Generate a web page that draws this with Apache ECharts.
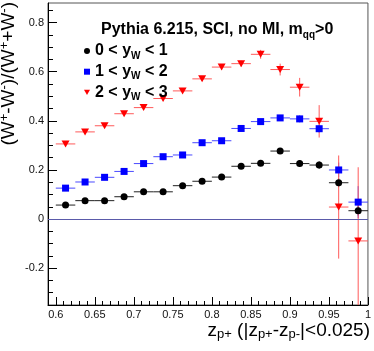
<!DOCTYPE html>
<html><head><meta charset="utf-8">
<script src="https://cdn.jsdelivr.net/npm/echarts@6/dist/echarts.min.js"></script>
<style>html,body{margin:0;padding:0;background:#fff}#c{width:374px;height:351px}</style>
</head><body><div id="c"></div>
<script>
// ---- data ----
const xCenters = [0.6125, 0.6375, 0.6625, 0.6875, 0.7125, 0.7375, 0.7625, 0.7875,
                  0.8125, 0.8375, 0.8625, 0.8875, 0.9125, 0.9375, 0.9625, 0.9875];
const binHalfWidth = 0.0125;

const blackY   = [0.057, 0.075, 0.075, 0.091, 0.111, 0.111, 0.136, 0.154, 0.171, 0.215, 0.227, 0.277, 0.226, 0.220, 0.148, 0.034];
const blackErr = [0.004, 0.004, 0.004, 0.005, 0.005, 0.005, 0.006, 0.006, 0.007, 0.008, 0.009, 0.010, 0.014, 0.015, 0.018, 0.020];
const blueY    = [0.126, 0.151, 0.170, 0.194, 0.226, 0.254, 0.261, 0.311, 0.319, 0.369, 0.397, 0.412, 0.408, 0.368, 0.200, 0.069];
const blueErr  = [0.004, 0.005, 0.005, 0.005, 0.006, 0.006, 0.007, 0.007, 0.008, 0.009, 0.010, 0.011, 0.014, 0.016, 0.030, 0.065];
const redY     = [0.306, 0.355, 0.380, 0.429, 0.454, 0.491, 0.522, 0.571, 0.619, 0.633, 0.671, 0.609, 0.537, 0.398, 0.049, -0.089];
const redErr   = [0.005, 0.005, 0.006, 0.006, 0.007, 0.007, 0.008, 0.009, 0.010, 0.012, 0.018, 0.024, 0.038, 0.066, 0.210, 0.300];

const legendParts = [['0 < y', 'W', ' < 1'], ['1 < y', 'W', ' < 2'], ['2 < y', 'W', ' < 3']];
const seriesNames = legendParts.map(p => p.join(''));

const xRange = [0.59, 1.0];
const yRange = [-0.35, 0.88];
const xMajorTicks = [0.6, 0.65, 0.7, 0.75, 0.8, 0.85, 0.9, 0.95, 1.0];
const xMinorTicks = [0.6, 0.61, 0.62, 0.63, 0.64, 0.65, 0.66, 0.67, 0.68, 0.69, 0.7, 0.71, 0.72, 0.73, 0.74,
                     0.75, 0.76, 0.77, 0.78, 0.79, 0.8, 0.81, 0.82, 0.83, 0.84, 0.85, 0.86, 0.87, 0.88, 0.89,
                     0.9, 0.91, 0.92, 0.93, 0.94, 0.95, 0.96, 0.97, 0.98, 0.99, 1.0];
const yMajorTicks = [-0.2, 0, 0.2, 0.4, 0.6, 0.8];
const yMinorTicks = [-0.35, -0.3, -0.25, -0.2, -0.15, -0.1, -0.05, 0, 0.05, 0.1, 0.15, 0.2, 0.25, 0.3, 0.35,
                     0.4, 0.45, 0.5, 0.55, 0.6, 0.65, 0.7, 0.75, 0.8, 0.85];

// ---- chart ----
const FONT = '"Liberation Sans", Arial, Helvetica, sans-serif';
const chart = echarts.init(document.getElementById('c'), null, {renderer: 'canvas'});

function fmt(v) { return String(Math.round(v * 100) / 100); }

function errSeries(ys, errs, color) {
  return {
    type: 'custom', xAxisIndex: 0, yAxisIndex: 0, clip: true, silent: true, z: 2,
    data: xCenters.map((x, i) => [x, ys[i], errs[i]]),
    encode: {x: 0, y: 1},
    renderItem(params, api) {
      const x = api.value(0), y = api.value(1), e = api.value(2);
      const l = api.coord([x - binHalfWidth, y]), r = api.coord([x + binHalfWidth, y]);
      const t = api.coord([x, y + e]), b = api.coord([x, y - e]);
      return {type: 'group', children: [
        {type: 'line', shape: {x1: l[0], y1: l[1], x2: r[0], y2: r[1]}, style: {stroke: color, lineWidth: 1}},
        {type: 'line', shape: {x1: t[0], y1: t[1], x2: b[0], y2: b[1]}, style: {stroke: color, lineWidth: 1}}
      ]};
    }
  };
}

function pointSeries(name, ys, color, symbol, size, rotate) {
  return {
    type: 'scatter', name, xAxisIndex: 0, yAxisIndex: 0, z: 3,
    symbol, symbolSize: size, symbolRotate: rotate || 0,
    itemStyle: {color, opacity: 1},
    data: xCenters.map((x, i) => [x, ys[i]])
  };
}

const legendRich = {
  b: {fontFamily: FONT, fontWeight: 'bold', fontSize: 16, lineHeight: 16, color: '#000', verticalAlign: 'middle'},
  s: {fontFamily: FONT, fontWeight: 'bold', fontSize: 10, lineHeight: 16, color: '#000', verticalAlign: 'middle', padding: [10, 0, 0, 0]}
};

const option = {
  animation: false,
  backgroundColor: '#fff',
  grid: {left: 48, top: 3, width: 322, height: 302, show: true, borderColor: '#555', borderWidth: 1, backgroundColor: 'transparent'},
  title: {
    text: '{b|Pythia 6.215, SCI, no MI, m}{s|qq}{b|>0}',
    left: 101, top: 22, padding: 0,
    textStyle: {fontFamily: FONT, fontWeight: 'bold', fontSize: 16, lineHeight: 16, rich: legendRich}
  },
  legend: {
    orient: 'vertical', left: 84, top: 41, padding: 0, itemGap: 0.7,
    itemWidth: 6, itemHeight: 6, selectedMode: false,
    data: [
      {name: seriesNames[0], icon: 'circle', itemStyle: {color: '#000'}},
      {name: seriesNames[1], icon: 'rect', itemStyle: {color: '#0000ff'}},
      {name: seriesNames[2], icon: 'path://M0,0L10,0L5,9Z', itemStyle: {color: '#ff0000'}}
    ],
    formatter(name) {
      const p = legendParts[seriesNames.indexOf(name)];
      return '{b|' + p[0] + '}{s|' + p[1] + '}{b|' + p[2] + '}';
    },
    textStyle: {fontFamily: FONT, fontWeight: 'bold', fontSize: 16, lineHeight: 16, color: '#000', rich: legendRich}
  },
  xAxis: [
    {
      type: 'value', min: xRange[0], max: xRange[1], position: 'bottom',
      axisLine: {show: true, onZero: false, lineStyle: {color: '#000', width: 1}},
      axisTick: {show: true, inside: true, length: 8, customValues: xMajorTicks, lineStyle: {color: '#000'}},
      axisLabel: {show: true, customValues: xMajorTicks, formatter: fmt, margin: 4,
                  fontFamily: FONT, fontSize: 11, color: '#111'},
      splitLine: {show: false}
    },
    {
      type: 'value', min: xRange[0], max: xRange[1], position: 'bottom',
      axisLine: {show: false, onZero: false},
      axisTick: {show: true, inside: true, length: 4, customValues: xMinorTicks, lineStyle: {color: '#000'}},
      axisLabel: {show: false},
      splitLine: {show: false}
    }
  ],
  yAxis: [
    {
      type: 'value', min: yRange[0], max: yRange[1], position: 'left',
      axisLine: {show: true, onZero: false, lineStyle: {color: '#000', width: 1}},
      axisTick: {show: true, inside: true, length: 9, customValues: yMajorTicks, lineStyle: {color: '#000'}},
      axisLabel: {show: true, customValues: yMajorTicks, formatter: fmt, margin: 4,
                  fontFamily: FONT, fontSize: 11, color: '#111'},
      splitLine: {show: false}
    },
    {
      type: 'value', min: yRange[0], max: yRange[1], position: 'left',
      axisLine: {show: false, onZero: false},
      axisTick: {show: true, inside: true, length: 5, customValues: yMinorTicks, lineStyle: {color: '#000'}},
      axisLabel: {show: false},
      splitLine: {show: false}
    }
  ],
  series: [
    errSeries(blackY, blackErr, '#222'),
    errSeries(blueY, blueErr, '#4a4aff'),
    errSeries(redY, redErr, '#ff5a5a'),
    Object.assign(pointSeries(seriesNames[0], blackY, '#000', 'circle', 7), {
      markLine: {silent: true, symbol: ['none', 'none'], label: {show: false},
                 lineStyle: {color: '#5a5aaa', width: 1, type: 'solid'}, data: [{yAxis: 0}]}
    }),
    pointSeries(seriesNames[1], blueY, '#0000ff', 'rect', 7),
    pointSeries(seriesNames[2], redY, '#ff0000', 'triangle', [8, 7], 180)
  ],
  graphic: [
    {
      type: 'text', x: 9, y: 2, rotation: Math.PI / 2, silent: true,
      style: {
        text: '{m|(W}{p|+}{m|-W}{p|-}{m|)/(W}{p|+}{m|+W}{p|-}{m|)}',
        align: 'right', verticalAlign: 'middle', fill: '#000',
        fontFamily: FONT, fontSize: 19,
        rich: {
          m: {fontFamily: FONT, fontSize: 19, lineHeight: 19, fill: '#000', verticalAlign: 'middle'},
          p: {fontFamily: FONT, fontSize: 13, lineHeight: 19, fill: '#000', verticalAlign: 'middle', padding: [0, 0, 9, 0]}
        }
      }
    },
    {
      type: 'text', x: 370, y: 331, silent: true,
      style: {
        text: '{m|z}{s|p+}{m| (|z}{s|p+}{m|-z}{s|p-}{m||<0.025)}',
        align: 'right', verticalAlign: 'middle', fill: '#000',
        fontFamily: FONT, fontSize: 19,
        rich: {
          m: {fontFamily: FONT, fontSize: 19, lineHeight: 19, fill: '#000', verticalAlign: 'middle'},
          s: {fontFamily: FONT, fontSize: 13, lineHeight: 19, fill: '#000', verticalAlign: 'middle', padding: [7, 0, 0, 0]}
        }
      }
    }
  ]
};
chart.setOption(option);
</script>
</body></html>
